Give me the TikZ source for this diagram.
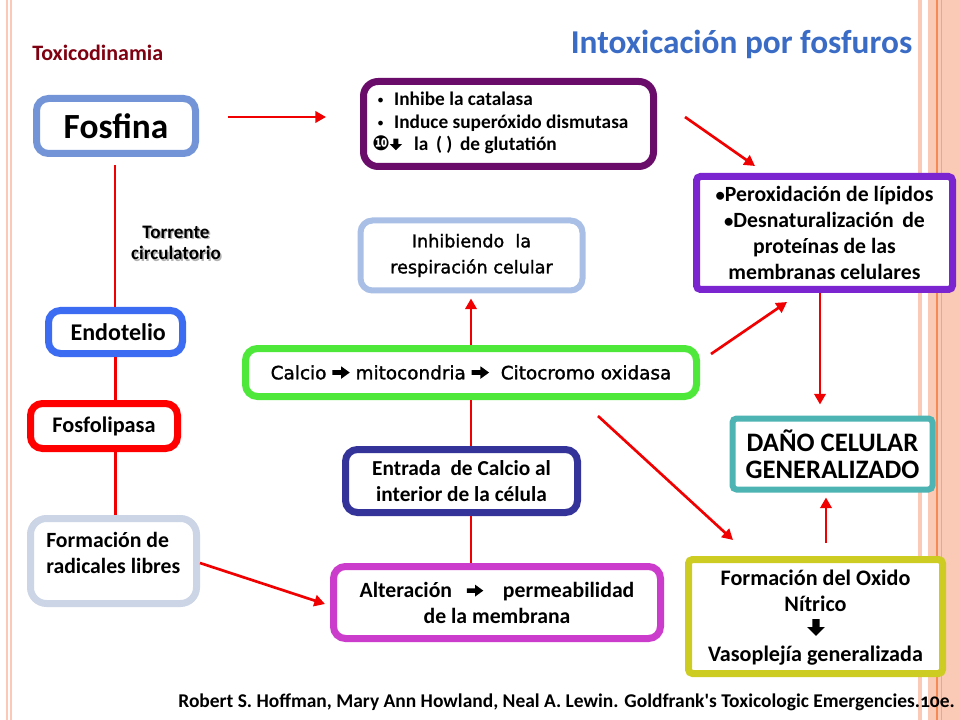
\documentclass[tikz,border=0pt]{standalone}
\usepackage{fontspec}
\setmainfont{Carlito}
\newfontfamily\dv{DejaVu Sans}
\newfontfamily\dvm{DejaVu Sans}[FakeBold=1.5]
\newfontfamily\footfont{Carlito}[Numbers=OldStyle,Ligatures=TeXOff]
\usetikzlibrary{arrows.meta,calc}
\definecolor{cFosfina}{HTML}{7395D8}
\definecolor{cTop}{HTML}{6A0C6A}
\definecolor{cPerox}{HTML}{7B25D0}
\definecolor{cInhib}{HTML}{A9BFE6}
\definecolor{cEndo}{HTML}{3C6CF2}
\definecolor{cCalcio}{HTML}{4DE83A}
\definecolor{cFosfo}{HTML}{FF0000}
\definecolor{cDano}{HTML}{4DB3B3}
\definecolor{cEntrada}{HTML}{333399}
\definecolor{cRad}{HTML}{CCD5E6}
\definecolor{cAlt}{HTML}{CC3CCC}
\definecolor{cOxido}{HTML}{CCCC22}
\definecolor{cTitle}{HTML}{3A6CC6}
\definecolor{cToxi}{HTML}{7F0010}
\definecolor{cArrow}{HTML}{F00000}
\definecolor{cPeach}{HTML}{FBCAB6}
\definecolor{cOrange}{HTML}{F58A54}
\newcommand{\PX}{*0.75pt}
\newcommand{\fatdown}{\tikz[baseline=-0.05em,x=1em,y=1em,sharp corners]\fill[black,sharp corners] (-0.13,0.58) -- (0.13,0.58) -- (0.13,0.30) -- (0.32,0.30) -- (0,-0.02) -- (-0.32,0.30) -- (-0.13,0.30) -- cycle;}
\newcommand{\fatright}{\tikz[baseline=0pt,x=1em,y=1em,sharp corners]\fill[black,sharp corners] (0,0.24) -- (0.48,0.24) -- (0.48,0.03) -- (0.95,0.37) -- (0.48,0.71) -- (0.48,0.50) -- (0,0.50) -- cycle;}
\tikzset{
  px/.style={x=0.75pt,y=-0.75pt},
  boxnode/.style={draw, fill=white, line width=5.25pt, rounded corners=9pt, inner sep=0pt, font=\bfseries, align=center},
  sqbox/.style={boxnode, rounded corners=3pt},
  txt/.style={inner sep=0pt, font=\bfseries},
  redline/.style={draw=cArrow, line width=2pt},
  redarrow/.style={redline, -{Triangle[length=8pt,width=8.5pt]}},
}
\begin{document}
\begin{tikzpicture}[px]
\useasboundingbox (0,0) rectangle (960,720);
\fill[white] (0,0) rectangle (960,720);
% side stripes
\fill[cPeach] (5.5,0) rectangle (7.5,720);
\fill[cPeach] (9.5,0) rectangle (11.5,720);
\fill[cPeach] (918,0) rectangle (921.5,720);
\fill[cPeach] (928,0) rectangle (960,720);
\fill[cOrange] (936,0) rectangle (937.5,720);
\fill[cOrange!60!cPeach] (941,0) rectangle (942,720);

% titles
\node[txt, text=cTitle, font=\bfseries\fontsize{25}{29}\selectfont] (title) at (741.5,44) {Intoxicación por fosfuros};
\node[txt, text=cToxi, font=\bfseries\fontsize{16.5}{19}\selectfont, anchor=west] (toxi) at (32,53) {Toxicodinamia};

% boxes
\node[boxnode, draw=cFosfina, minimum width=159\PX, minimum height=55\PX, font=\bfseries\fontsize{26.5}{30}\selectfont] (fosfina) at (116,126) {Fosfina};
\node[boxnode, draw=cTop, minimum width=290\PX, minimum height=85\PX, rounded corners=11pt] (top) at (508.5,124) {};
\node[txt, anchor=west, align=left, font=\bfseries\fontsize{14.5}{17}\selectfont] (toptxt) at (372,123) {%
  \hspace{3pt}{\dv\fontsize{10}{17}\selectfont\textbullet}\hspace{7pt}Inhibe la catalasa\\
  \hspace{3pt}{\dv\fontsize{10}{17}\selectfont\textbullet}\hspace{7pt}Induce superóxido dismutasa\\
  {\dv\fontsize{15.5}{17}\selectfont ❿}\fatdown\hspace{9pt}la \,( )\, de glutatión};
\node[sqbox, draw=cPerox, minimum width=256\PX, minimum height=113\PX, font=\bfseries\fontsize{16.3}{19.4}\selectfont] (perox) at (824.5,233) {{\fontsize{14}{19.4}\selectfont•}Peroxidación de lípidos\\{\fontsize{14}{19.4}\selectfont•}Desnaturalización \,de\\proteínas de las\\membranas celulares};
\node[boxnode, draw=cInhib, line width=4.5pt, minimum width=222\PX, minimum height=70\PX, font=\dvm\fontsize{13.2}{19.5}\selectfont] (inhib) at (471.5,255.5) {Inhibiendo \ la\\respiración celular};
\node[boxnode, draw=cEndo, minimum width=134\PX, minimum height=43\PX, font=\bfseries\fontsize{18}{20}\selectfont] (endo) at (115.5,332) {\ Endotelio};
\node[boxnode, draw=cCalcio, minimum width=451\PX, minimum height=48\PX, font=\dvm\fontsize{13.8}{17}\selectfont] (calcio) at (471,372.5) {Calcio \fatright\ mitocondria \fatright\ \ Citocromo oxidasa};
\node[boxnode, draw=cFosfo, minimum width=147\PX, minimum height=45\PX, font=\bfseries\fontsize{16.7}{19}\selectfont] (fosfo) at (104,426) {Fosfolipasa};
\node[sqbox, draw=cDano, line width=4.5pt, minimum width=200\PX, minimum height=71\PX, font=\bfseries\fontsize{20}{20.3}\selectfont] (dano) at (832.5,454) {DAÑO CELULAR\\GENERALIZADO};
\node[boxnode, draw=cEntrada, minimum width=232\PX, minimum height=63\PX, font=\bfseries\fontsize{16}{20}\selectfont] (entrada) at (461.5,481) {Entrada \ de Calcio al\\interior de la célula};
\node[boxnode, draw=cRad, minimum width=166\PX, minimum height=85\PX, rounded corners=12pt] (rad) at (113.5,561) {};
\node[txt, anchor=west, align=left, font=\bfseries\fontsize{16.3}{19.5}\selectfont] (radtxt) at (46,553) {Formación de\\radicales libres};
\node[boxnode, draw=cAlt, minimum width=327\PX, minimum height=72\PX, font=\bfseries\fontsize{16.3}{19.5}\selectfont] (alt) at (497,602.5) {Alteración \ \ {\fontsize{13}{19.5}\selectfont\fatright} \ \ \ permeabilidad\\de la membrana};
\node[sqbox, draw=cOxido, minimum width=254\PX, minimum height=114\PX] (oxido) at (815.5,616.5) {};
\node[txt, align=center, font=\bfseries\fontsize{16.6}{19.5}\selectfont] (oxtxt1) at (815.5,591) {Formación del Oxido\\Nítrico};
\node[txt, font=\bfseries\fontsize{21}{22}\selectfont] (oxarr) at (816,628) {\fatdown};
\node[txt, font=\bfseries\fontsize{16.6}{19.5}\selectfont] (oxtxt2) at (815.5,656) {Vasoplejía generalizada};

% torrente label with shadow
\node[txt, align=center, text=black!30, font=\bfseries\fontsize{14.3}{16}\selectfont] (torrsh) at (177.5,244.5) {Torrente\\circulatorio};
\node[txt, align=center, font=\bfseries\fontsize{14.3}{16}\selectfont] (torr) at (176,243) {Torrente\\circulatorio};

% footer
\node[txt, anchor=east, font=\footfont\bfseries\fontsize{14.6}{16}\selectfont] (foot) at (955,702) {Robert S. Hoffman, Mary Ann Howland, Neal A. Lewin. Goldfrank's Toxicologic Emergencies.10e.};

% connectors
\draw[redarrow] ($(fosfina.east)+(29,-9)$) -- ($(top.west)+(-34,-7)$);
\draw[redarrow] ($(top.east)+(28,-7)$) -- ($(perox.north)+(-69.5,-7)$);
\draw[redline] ($(fosfina.south)+(-1,8)$) -- ($(endo.north)+(-0.5,0)$);
\draw[redline] (endo.south) -- (endo.south |- fosfo.north);
\draw[redline] (endo.south |- fosfo.south) -- (endo.south |- rad.north);
\draw[redarrow] ($(rad.east)+(0,2)$) -- ($(alt.west)+(-5,1.5)$);
\draw[redline] (calcio.south |- alt.north) -- (calcio.south |- entrada.south);
\draw[redline] (calcio.south |- entrada.north) -- (calcio.south);
\draw[redarrow, shorten >=5\PX] (calcio.north) -- (calcio.north |- inhib.south);
\draw[redarrow] ($(calcio.east)+(11,-18.5)$) -- ($(perox.south)+(-37.5,9)$);
\draw[redarrow] ($(calcio.south)+(127,16)$) -- ($(oxido.north)+(-82.5,-16)$);
\draw[redarrow] ($(perox.south)+(-4.5,0)$) -- ($(dano.north)+(-12.5,-11)$);
\draw[redarrow] ($(oxido.north)+(10.5,-13)$) -- ($(dano.south)+(-6.5,5)$);
\end{tikzpicture}
\end{document}
